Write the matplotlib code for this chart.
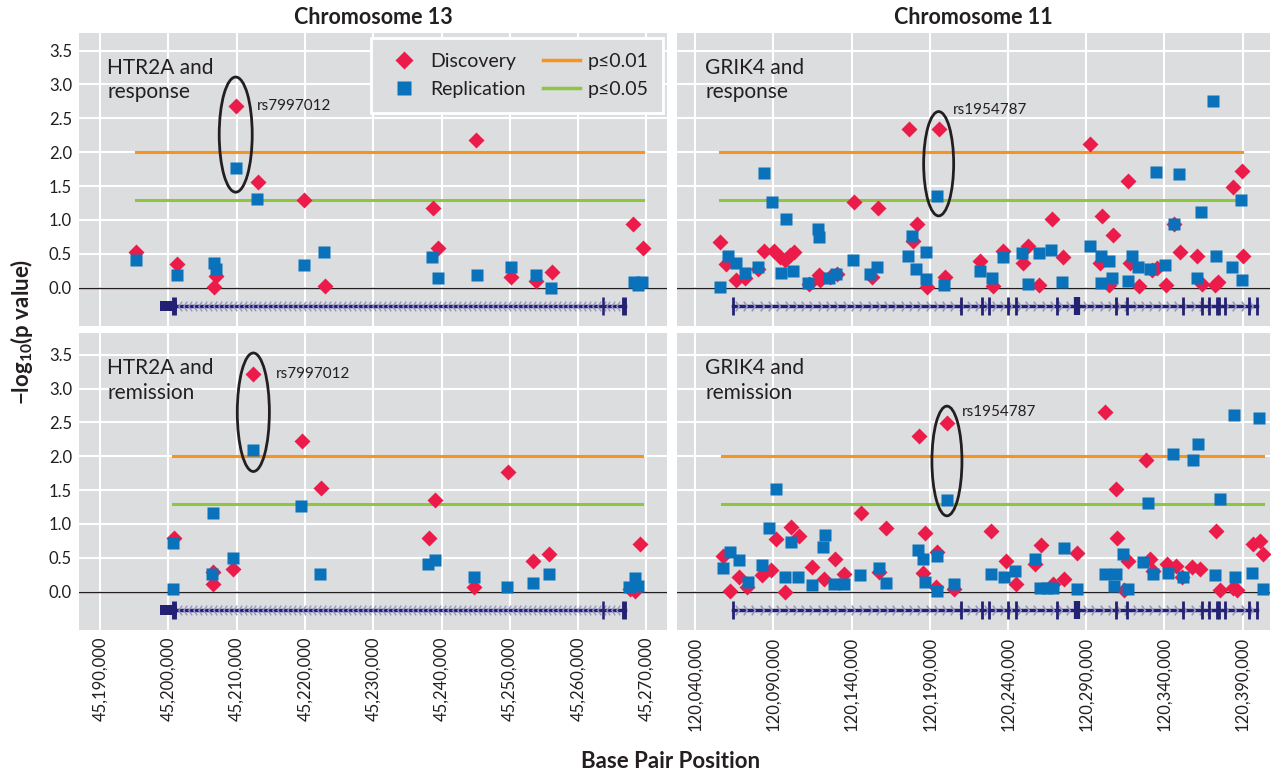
import numpy as np
import matplotlib
matplotlib.use('Agg')
import matplotlib.pyplot as plt
from matplotlib.patches import Ellipse, Rectangle
from matplotlib.path import Path
from matplotlib.lines import Line2D
from matplotlib.ticker import FuncFormatter

plt.rcParams['font.family'] = ['Lato', 'DejaVu Sans']
plt.rcParams['mathtext.fontset'] = 'custom'
plt.rcParams['mathtext.rm'] = 'Lato:bold'
plt.rcParams['mathtext.bf'] = 'Lato:bold'

# ---- data: chromosome 13, HTR2A and response ----
htr_resp_disc_pos = [45195270, 45201220, 45206980, 45206690, 45209910, 45213180, 45219910,
                     45222940, 45238710, 45239530, 45245050, 45250180, 45253790, 45256130,
                     45268090, 45269450]
htr_resp_disc_val = [0.52, 0.35, 0.17, 0.01, 2.68, 1.56, 1.30, 0.03, 1.17, 0.58, 2.18, 0.16,
                     0.10, 0.23, 0.94, 0.58]
htr_resp_rep_pos = [45195270, 45201220, 45206690, 45206980, 45209910, 45212940, 45219870,
                    45222750, 45238560, 45239440, 45245150, 45250180, 45253790, 45256030,
                    45268230, 45269310, 45268810]
htr_resp_rep_val = [0.41, 0.19, 0.36, 0.28, 1.76, 1.31, 0.34, 0.53, 0.46, 0.15, 0.19, 0.30,
                    0.19, 0.00, 0.08, 0.08, 0.04]

# ---- data: chromosome 13, HTR2A and remission ----
htr_rem_disc_pos = [45200830, 45206590, 45206500, 45209520, 45212450, 45219530, 45222310,
                    45238170, 45239050, 45244760, 45249780, 45253440, 45255780, 45269060,
                    45267600, 45268330]
htr_rem_disc_val = [0.79, 0.29, 0.12, 0.34, 3.22, 2.23, 1.53, 0.80, 1.35, 0.07, 1.76, 0.46,
                    0.55, 0.70, 0.04, 0.01]
htr_rem_rep_pos = [45200690, 45200690, 45206500, 45206400, 45209430, 45212450, 45219380,
                   45222210, 45238020, 45239050, 45244760, 45249540, 45253440, 45255780,
                   45268330, 45267500, 45268810]
htr_rem_rep_val = [0.72, 0.04, 1.16, 0.26, 0.50, 2.09, 1.27, 0.26, 0.41, 0.47, 0.22, 0.07,
                   0.13, 0.26, 0.20, 0.07, 0.08]

# ---- data: chromosome 11, GRIK4 and response ----
grik_resp_disc_pos = [120056000, 120059800, 120066200, 120072000, 120079900, 120084100,
                      120090100, 120094000, 120097500, 120100700, 120103300, 120112500,
                      120118900, 120120000, 120126300, 120130600, 120141700, 120153000,
                      120156800, 120176800, 120179000, 120181800, 120188200, 120195600,
                      120199500, 120222000, 120230200, 120236600, 120249300, 120252900,
                      120260000, 120268100, 120274900, 120292400, 120299900, 120298800,
                      120307300, 120304700, 120316900, 120318000, 120323900, 120331800,
                      120335000, 120341000, 120346100, 120349900, 120361000, 120364200,
                      120372300, 120374400, 120383600, 120389400, 120390000]
grik_resp_disc_val = [0.67, 0.35, 0.12, 0.14, 0.27, 0.54, 0.54, 0.46, 0.41, 0.48, 0.53, 0.05,
                      0.19, 0.12, 0.16, 0.20, 1.27, 0.16, 1.17, 2.34, 0.69, 0.94, 0.01, 2.34,
                      0.16, 0.39, 0.03, 0.54, 0.37, 0.61, 0.04, 1.01, 0.45, 2.12, 1.06, 0.36,
                      0.78, 0.04, 1.57, 0.36, 0.03, 0.26, 0.29, 0.04, 0.94, 0.53, 0.47, 0.05,
                      0.04, 0.09, 1.48, 1.72, 0.47]
grik_resp_rep_pos = [120056000, 120060700, 120066000, 120071600, 120079900, 120083700,
                     120089000, 120094800, 120097800, 120102700, 120112100, 120118500,
                     120118900, 120125300, 120130200, 120140600, 120151900, 120156200,
                     120175800, 120178600, 120180900, 120187300, 120187700, 120194500,
                     120198800, 120222000, 120229500, 120236600, 120248700, 120252500,
                     120259800, 120267400, 120274300, 120292400, 120299400, 120299400,
                     120304500, 120306300, 120316500, 120319000, 120322900, 120330700,
                     120334600, 120340300, 120346100, 120349300, 120360600, 120363300,
                     120370800, 120372700, 120383000, 120388700, 120389400]
grik_resp_rep_val = [0.01, 0.47, 0.36, 0.21, 0.31, 1.70, 1.26, 0.22, 1.01, 0.24, 0.07, 0.87,
                     0.75, 0.14, 0.20, 0.41, 0.20, 0.30, 0.47, 0.77, 0.28, 0.52, 0.13, 1.35,
                     0.04, 0.24, 0.14, 0.46, 0.51, 0.06, 0.51, 0.55, 0.09, 0.62, 0.47, 0.07,
                     0.40, 0.15, 0.10, 0.47, 0.31, 0.27, 1.71, 0.34, 0.94, 1.68, 0.14, 1.11,
                     2.75, 0.47, 0.31, 1.30, 0.11]

# ---- data: chromosome 11, GRIK4 and remission ----
grik_rem_disc_pos = [120057500, 120062400, 120068100, 120073100, 120082600, 120088400,
                     120091800, 120097500, 120101400, 120106100, 120114600, 120122100,
                     120129500, 120134900, 120146100, 120157700, 120162100, 120182800,
                     120185400, 120187100, 120194500, 120194100, 120200900, 120205200,
                     120228900, 120238700, 120244900, 120257200, 120261000, 120268900,
                     120275900, 120283900, 120302000, 120308800, 120309400, 120316900,
                     120314300, 120328000, 120330700, 120332800, 120341800, 120347200,
                     120351400, 120357400, 120362700, 120372700, 120375500, 120384000,
                     120386200, 120396400, 120401100, 120402800]
grik_rem_disc_val = [0.53, 0.01, 0.22, 0.07, 0.24, 0.32, 0.78, 0.00, 0.96, 0.82, 0.37, 0.19,
                     0.48, 0.26, 1.16, 0.29, 0.94, 2.30, 0.27, 0.87, 0.59, 0.07, 2.49, 0.04,
                     0.89, 0.46, 0.11, 0.41, 0.69, 0.12, 0.19, 0.57, 2.65, 1.51, 0.80, 0.45,
                     0.03, 1.95, 0.48, 0.31, 0.41, 0.38, 0.21, 0.36, 0.33, 0.89, 0.03, 0.05,
                     0.03, 0.71, 0.75, 0.56]
grik_rem_rep_pos = [120057500, 120062000, 120067700, 120073500, 120082600, 120086900,
                    120091600, 120097200, 120101200, 120105500, 120114400, 120121500,
                    120122700, 120128500, 120134900, 120145500, 120157300, 120161900,
                    120182200, 120185400, 120187100, 120194500, 120194500, 120200900,
                    120205200, 120228900, 120237600, 120244400, 120257200, 120260400,
                    120264700, 120268900, 120275800, 120283900, 120302000, 120308800,
                    120307900, 120313300, 120316900, 120326500, 120329300, 120332500,
                    120342000, 120345300, 120351600, 120358000, 120361200, 120372300,
                    120375500, 120384400, 120385100, 120395800, 120400600, 120402800]
grik_rem_rep_val = [0.35, 0.58, 0.47, 0.15, 0.39, 0.94, 1.52, 0.22, 0.74, 0.21, 0.10, 0.66,
                    0.84, 0.12, 0.12, 0.24, 0.35, 0.13, 0.61, 0.48, 0.15, 0.52, 0.01, 1.36,
                    0.12, 0.26, 0.22, 0.31, 0.48, 0.06, 0.06, 0.06, 0.65, 0.04, 0.26, 0.26,
                    0.09, 0.56, 0.04, 0.44, 1.31, 0.26, 0.27, 2.03, 0.22, 1.94, 2.18, 0.24,
                    1.37, 2.61, 0.22, 0.28, 2.57, 0.04]

# significance thresholds (-log10 p) and their extents per panel
thr_01 = 2.0
thr_05 = 1.301
htr_resp_thr_span = [45195270, 45269500]
htr_rem_thr_span = [45200690, 45269360]
grik_resp_thr_span = [120055800, 120389600]
grik_rem_thr_span = [120057070, 120403000]

# gene models
htr_gene_span = [45201270, 45266870]
htr_utr_block = [45198780, 45201270]
htr_exons = [45200900, 45263650, 45266700]
grik_gene_span = [120064100, 120399200]
grik_exons = [120064100, 120209900, 120223300, 120227800, 120239900, 120245100, 120271300,
              120284100, 120309000, 120316000, 120351800, 120364000, 120368500, 120373600,
              120374900, 120378700, 120394000, 120399200]

# highlighted SNPs
htr_snp = 'rs7997012'
grik_snp = 'rs1954787'

chr13_ticks = [45190000, 45200000, 45210000, 45220000, 45230000, 45240000, 45250000,
               45260000, 45270000]
chr11_ticks = [120040000, 120090000, 120140000, 120190000, 120240000, 120290000, 120340000,
               120390000]
y_ticks = [0.0, 0.5, 1.0, 1.5, 2.0, 2.5, 3.0, 3.5]

RED = '#ec1c4a'
BLUE = '#0a72ba'
ORANGE = '#f7941d'
GREEN = '#8dc63f'
NAVY = '#232173'
CHEV = '#9a94c2'
BG = '#dcdddf'
TXT = '#231f20'
GENE_Y = -0.27

W, H = 1273, 774
fig = plt.figure(figsize=(W / 100, H / 100), dpi=100)


def box(l, t, r, b):
    return [l / W, 1 - b / H, (r - l) / W, (b - t) / H]


ax_tl = fig.add_axes(box(79, 33, 667, 326))
ax_tr = fig.add_axes(box(677, 33, 1270, 326))
ax_bl = fig.add_axes(box(79, 333, 667, 630))
ax_br = fig.add_axes(box(677, 333, 1270, 630))

left_lim = (45186925, 45273016)
right_lim = (120028300, 120407470)

chev_left = Path([(0.35, 1), (-0.35, 0), (0.35, -1)], [Path.MOVETO, Path.LINETO, Path.LINETO])
chev_right = Path([(-0.35, 1), (0.35, 0), (-0.35, -1)], [Path.MOVETO, Path.LINETO, Path.LINETO])


def style(ax, xlim, ylim, xticks):
    ax.set_facecolor(BG)
    for s in ax.spines.values():
        s.set_visible(False)
    ax.set_xlim(*xlim)
    ax.set_ylim(*ylim)
    ax.set_xticks(xticks)
    ax.set_yticks(y_ticks)
    ax.grid(True, color='white', lw=1.5)
    ax.set_axisbelow(True)
    ax.tick_params(length=0, labelsize=12, labelcolor=TXT, pad=5)
    ax.xaxis.set_major_formatter(FuncFormatter(lambda v, p: f'{int(v):,}'))
    ax.yaxis.set_major_formatter(FuncFormatter(lambda v, p: f'{v:.1f}'))
    for lab in ax.get_xticklabels():
        lab.set_rotation(90)
    ax.axhline(0, color=TXT, lw=1, zorder=2)


def points(ax, dpos, dval, rpos, rval, span):
    ax.plot(span, [thr_01, thr_01], color=ORANGE, lw=2.2, zorder=3)
    ax.plot(span, [thr_05, thr_05], color=GREEN, lw=2.2, zorder=3)
    ax.plot(dpos, dval, ls='none', marker='D', ms=8.2, color=RED, mec='none', zorder=4)
    ax.plot(rpos, rval, ls='none', marker='s', ms=8.6, color=BLUE, mec='none', zorder=5)


def htr_gene(ax):
    ax.plot(htr_gene_span, [GENE_Y, GENE_Y], color=NAVY, lw=2.5, zorder=3)
    chev = np.arange(htr_gene_span[0] + 400, htr_gene_span[1] - 300, 730)
    ax.plot(chev, [GENE_Y] * len(chev), ls='none', marker=chev_left, ms=7, mfc='none',
            mec=CHEV, mew=1.0, zorder=3)
    ax.add_patch(Rectangle((htr_utr_block[0], GENE_Y - 0.075),
                           htr_utr_block[1] - htr_utr_block[0], 0.15, color=NAVY, lw=0, zorder=4))
    ax.vlines(htr_exons, GENE_Y - 0.135, GENE_Y + 0.135, color=NAVY, lw=[3.5, 1.8, 3.5], zorder=4)


def grik_gene(ax):
    ax.plot(grik_gene_span, [GENE_Y, GENE_Y], color=NAVY, lw=2.5, zorder=3)
    chev = np.arange(grik_gene_span[0] + 2500, grik_gene_span[1], 5300)
    ax.plot(chev, [GENE_Y] * len(chev), ls='none', marker=chev_right, ms=7, mfc='none',
            mec=CHEV, mew=1.2, zorder=3)
    widths = [2.0] * len(grik_exons)
    widths[7] = 4.5
    ax.vlines(grik_exons, GENE_Y - 0.135, GENE_Y + 0.135, color=NAVY, lw=widths, zorder=4)


def label(ax, text, snp, sx, sy, ex, ey, ew, eh):
    ax.text(0.048, 0.915, text, transform=ax.transAxes, va='top', ha='left', fontsize=15,
            color=TXT, linespacing=1.28)
    ax.text(sx, sy, snp, fontsize=11, color=TXT, va='center', ha='left', zorder=6)
    ax.add_patch(Ellipse((ex, ey), ew, eh, fill=False, ec=TXT, lw=2, zorder=6))


style(ax_tl, left_lim, (-0.566, 3.76), chr13_ticks)
style(ax_bl, left_lim, (-0.566, 3.82), chr13_ticks)
style(ax_tr, right_lim, (-0.566, 3.76), chr11_ticks)
style(ax_br, right_lim, (-0.566, 3.82), chr11_ticks)
for ax in (ax_tl, ax_tr):
    ax.tick_params(labelbottom=False)
for ax in (ax_tr, ax_br):
    ax.tick_params(labelleft=False)

points(ax_tl, htr_resp_disc_pos, htr_resp_disc_val, htr_resp_rep_pos, htr_resp_rep_val,
       htr_resp_thr_span)
points(ax_bl, htr_rem_disc_pos, htr_rem_disc_val, htr_rem_rep_pos, htr_rem_rep_val,
       htr_rem_thr_span)
points(ax_tr, grik_resp_disc_pos, grik_resp_disc_val, grik_resp_rep_pos, grik_resp_rep_val,
       grik_resp_thr_span)
points(ax_br, grik_rem_disc_pos, grik_rem_disc_val, grik_rem_rep_pos, grik_rem_rep_val,
       grik_rem_thr_span)

htr_gene(ax_tl)
htr_gene(ax_bl)
grik_gene(ax_tr)
grik_gene(ax_br)

label(ax_tl, 'HTR2A and\nresponse', htr_snp, 45212940, 2.68, 45209870, 2.26, 4830, 1.70)
label(ax_bl, 'HTR2A and\nremission', htr_snp, 45215770, 3.22, 45212450, 2.65, 4700, 1.75)
label(ax_tr, 'GRIK4 and\nresponse', grik_snp, 120204800, 2.63, 120195600, 1.83, 19200, 1.54)
label(ax_br, 'GRIK4 and\nremission', grik_snp, 120210500, 2.65, 120200900, 1.93, 19200, 1.62)

handles = [Line2D([], [], ls='none', marker='D', ms=9.5, color=RED, mec='none'),
           Line2D([], [], ls='none', marker='s', ms=9.5, color=BLUE, mec='none'),
           Line2D([], [], color=ORANGE, lw=2.5),
           Line2D([], [], color=GREEN, lw=2.5)]
leg = ax_tl.legend(handles, ['Discovery', 'Replication', 'p≤0.01', 'p≤0.05'], ncol=2,
                   loc='upper right', bbox_to_anchor=(0.994, 0.983), borderaxespad=0,
                   fontsize=14, facecolor=BG, edgecolor='white', fancybox=False,
                   framealpha=1, handlelength=1.9, handletextpad=0.4, columnspacing=0.9,
                   labelspacing=0.6, borderpad=0.75)
leg.get_frame().set_linewidth(2)
for t in leg.get_texts():
    t.set_color(TXT)

fig.text(373 / W, 1 - 17 / H, 'Chromosome 13', ha='center', va='center', fontsize=15.5,
         fontweight='bold', color=TXT)
fig.text(973.5 / W, 1 - 17 / H, 'Chromosome 11', ha='center', va='center', fontsize=15.5,
         fontweight='bold', color=TXT)
fig.text(671 / W, 1 - 762 / H, 'Base Pair Position', ha='center', va='center', fontsize=16,
         fontweight='bold', color=TXT)
fig.text(22 / W, 1 - 332 / H, '−log$_{10}$(p value)', ha='center', va='center', fontsize=16,
         fontweight='bold', rotation=90, color=TXT)

fig.savefig('out.png', dpi=100, facecolor='white')
